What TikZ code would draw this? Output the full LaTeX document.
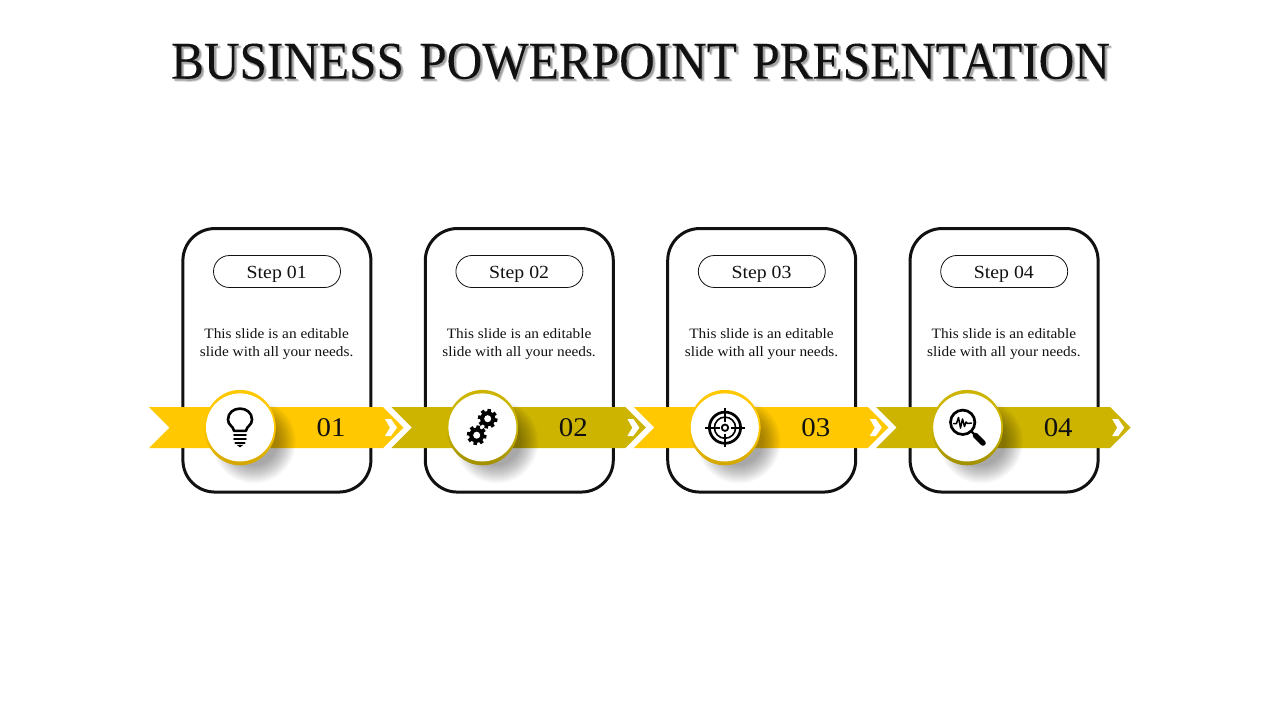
\documentclass[tikz,border=0pt]{standalone}
\usepackage{fontspec}
\setmainfont[FakeStretch=1.07]{Liberation Serif}
\newfontfamily\titlefont[FakeStretch=.93,FakeBold=.15,WordSpace=1.25]{Liberation Serif}
\usetikzlibrary{shapes.misc,calc}
\definecolor{ink}{HTML}{111111}
\definecolor{goldA}{HTML}{FFC800}
\definecolor{goldB}{HTML}{D2A600}
\definecolor{oliveA}{HTML}{CCB400}
\definecolor{oliveB}{HTML}{A08F00}
\tikzset{
  cardbox/.style={draw=ink,line width=3pt,rounded corners=32pt,minimum width=188pt,minimum height=263.5pt,inner sep=0pt,fill=white},
  pillbox/.style={rounded rectangle,draw=ink,line width=.8pt,minimum width=127pt,minimum height=32pt,inner sep=0pt},
  steptext/.style={font=\fontsize{18.5}{20}\selectfont,text=ink,inner sep=0pt},
  bodytext/.style={align=center,font=\fontsize{14.3}{18}\selectfont,text=ink,inner sep=0pt},
  numtext/.style={font=\fontsize{27}{30}\selectfont,text=ink,inner sep=0pt},
  discnode/.style={circle,fill=white,minimum size=68pt,inner sep=0pt},
  titletext/.style={font=\titlefont\fontsize{53}{58}\selectfont,inner sep=0pt},
  iconline/.style={draw=black,line cap=round,line join=round},
}
\newcommand{\gearicon}[2]{%
  \foreach \a in {0,45,...,315}{\draw[black,line width=3.6pt] ($(#1,#2)+(\a+10:5.5)$) -- ($(#1,#2)+(\a+10:9.8)$);}
  \fill[black] (#1,#2) circle (7.6);
  \fill[white] (#1,#2) circle (3.5);
}
\begin{document}
\begin{tikzpicture}[x=1pt,y=-1pt]
\useasboundingbox (0,0) rectangle (1280,720);
\fill[white] (0,0) rectangle (1280,720);
% title
\foreach \o/\p in {1.5/1.5,2.5/1.5,1.5/2.5,2.5/2.5,3/3,2/2}{\node[titletext,text=black,opacity=.07] at (640.5+\o,61.5+\p) {BUSINESS POWERPOINT PRESENTATION};}
\node[titletext,text=ink] (title) at (640.5,61.5) {BUSINESS POWERPOINT PRESENTATION};
% columns
\foreach \k/\n in {0/1,1/2,2/3,3/4}{
  \begin{scope}[shift={(242.4*\k,0)}]
    \node[cardbox] (card\n) at (276.9,360.3) {};
    \node[pillbox] (pill\n) at (277,271.5) {};
    \node[steptext] (step\n) at (276.7,274) {Step 0\n};
    \node[bodytext] (body\n) at (276.7,344) {This slide is an editable\\slide with all your needs.};
  \end{scope}
}
\foreach \k/\n/\ca/\cb in {0/1/goldA/goldB,1/2/oliveA/oliveB,2/3/goldA/goldB,3/4/oliveA/oliveB}{
  \begin{scope}[shift={(242.4*\k,0)}]
    \fill[\ca] (149,407) -- (383,407) -- (403.5,427.5) -- (383,448) -- (149,448) -- (169.5,427.5) -- cycle;
    \fill[white] (385,419) -- (391,419) -- (397,427.6) -- (391,436) -- (385,436) -- (390,427.6) -- cycle;
    \foreach \r in {24,25,...,42}{\fill[black,opacity=.018] (254,441.5) circle (\r);}
    \shade[top color=\ca,bottom color=\cb,middle color=\ca] (240,427.6) ellipse (35.8 and 37.7);
    \node[discnode] (disc\n) at (240,427.4) {};
    \node[numtext] (num\n) at (331,427.5) {0\n};
  \end{scope}
}
% bulb icon
\begin{scope}
  \draw[iconline,line width=2.6pt] (234,430.8) .. controls (233.5,426) and (228,425.5) .. (228,419.6)
     .. controls (228,412.8) and (233.5,408.6) .. (240,408.6)
     .. controls (246.5,408.6) and (252,412.8) .. (252,419.6)
     .. controls (252,425.5) and (246.5,426) .. (246,430.8) -- cycle;
  \draw[iconline,line width=2.4pt] (234.2,435.2) -- (245.8,435.2);
  \draw[iconline,line width=2.4pt] (234.2,439.2) -- (245.8,439.2);
  \draw[iconline,line width=2.2pt] (235.5,442.8) -- (244.5,442.8);
  \fill[black] (236.5,444.8) -- (243.5,444.8) -- (240,447.3) -- cycle;
\end{scope}
% gears icon
\gearicon{487.7}{418.7}
\gearicon{476.7}{435.2}
% target icon
\begin{scope}
  \draw[black,line width=2.7pt] (725,427.7) circle (15.6);
  \draw[black,line width=1.6pt] (725,427.7) circle (10.6);
  \draw[black,line width=1.8pt] (725,427.7) circle (3.2);
  \draw[black,line width=1.9pt] (705.3,427.7) -- (719.5,427.7) (730.5,427.7) -- (744.7,427.7)
     (725,408.3) -- (725,422) (725,433.5) -- (725,447);
\end{scope}
% magnifier icon
\begin{scope}
  \draw[black,line width=2.7pt] (962.7,422.3) circle (12.2);
  \draw[black,line width=2.2pt] (971.5,431.5) -- (975,435);
  \draw[black,line width=5.5pt,line cap=round] (975.5,435.5) -- (983,443);
  \draw[iconline,line width=1.5pt] (953.5,423.5) -- (956.5,423.5) -- (958.5,417.5) -- (960.5,428) -- (962.5,419) -- (964.5,426.5) -- (966,422) -- (967.5,423.5) -- (971.5,423);
\end{scope}
\end{tikzpicture}
\end{document}
